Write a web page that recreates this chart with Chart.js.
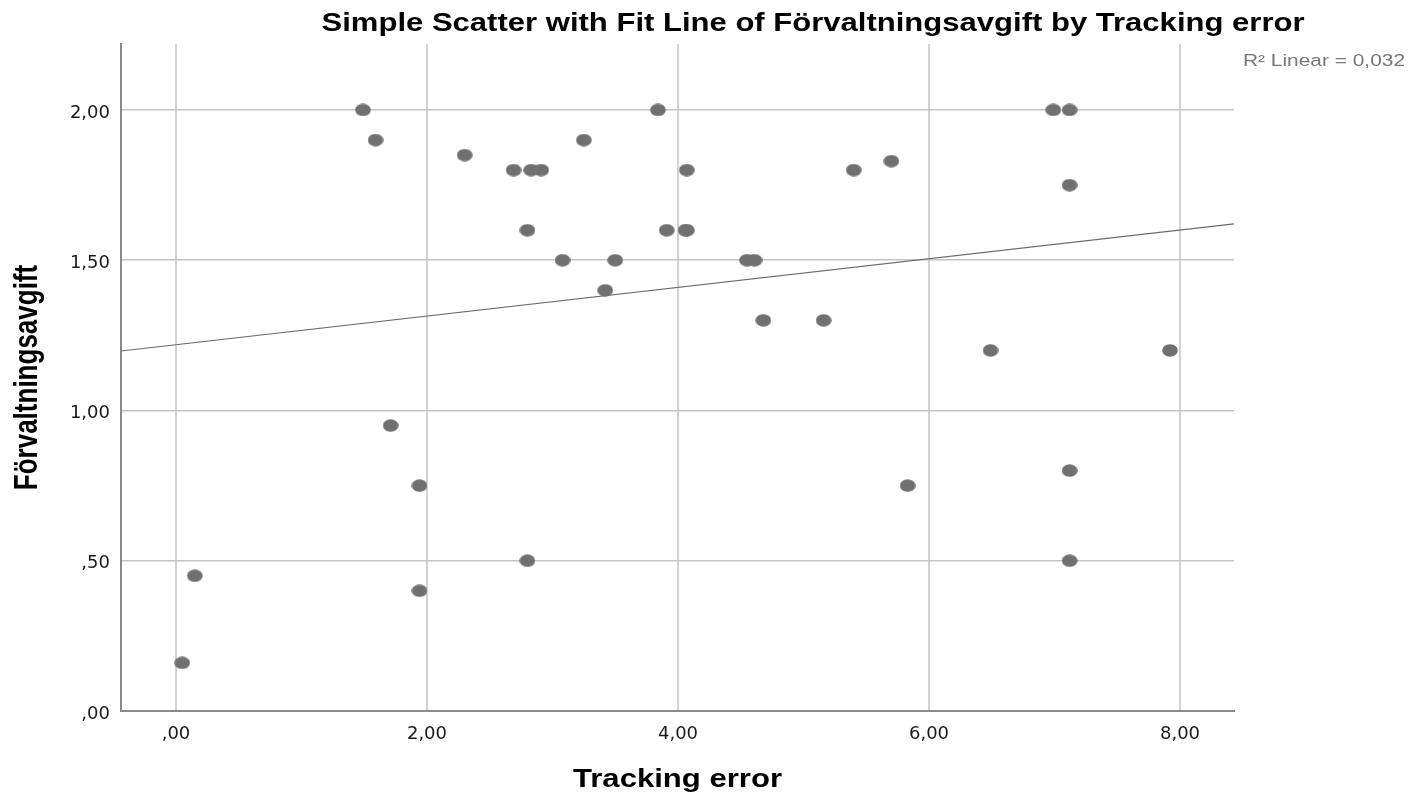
<!DOCTYPE html>
<html lang="sv">
<head>
    <meta charset="UTF-8">
    <title>Simple Scatter with Fit Line</title>
    <script src="https://cdn.jsdelivr.net/npm/chart.js"></script>
    <style>
        body {
            margin: 0;
            background-color: #ffffff;
        }
        canvas {
            display: block;
        }
    </style>
</head>
<body>
    <canvas id="scatterChart" width="1426" height="798"></canvas>

    <script>
        // Tracking error (x) and Förvaltningsavgift (y)
        const trackingError = [
            1.49, 1.59, 2.30, 2.69, 2.83, 2.91, 3.25, 3.84, 4.07,
            2.80, 3.91, 4.06, 4.07, 3.08, 3.50, 3.42, 4.55, 4.61,
            4.68, 5.16, 5.40, 5.70, 6.99, 7.12, 7.12, 6.49, 7.92,
            5.83, 7.12, 7.12, 1.71, 1.94, 1.94, 2.80, 0.15, 0.05
        ];
        const forvaltningsavgift = [
            2.00, 1.90, 1.85, 1.80, 1.80, 1.80, 1.90, 2.00, 1.80,
            1.60, 1.60, 1.60, 1.60, 1.50, 1.50, 1.40, 1.50, 1.50,
            1.30, 1.30, 1.80, 1.83, 2.00, 2.00, 1.75, 1.20, 1.20,
            0.75, 0.80, 0.50, 0.95, 0.75, 0.40, 0.50, 0.45, 0.16
        ];

        // fit line end points (at the edges of the plot)
        const fitLineX = [-0.438, 8.43];
        const fitLineY = [1.198, 1.621];

        const xTicks = [0, 2, 4, 6, 8];
        const yTicks = [0, 0.5, 1, 1.5, 2];

        const chartTitle = 'Simple Scatter with Fit Line of Förvaltningsavgift by Tracking error';
        const xTitle = 'Tracking error';
        const yTitle = 'Förvaltningsavgift';
        const r2Label = 'R² Linear = 0,032';

        // swedish style numbers: ,50 / 2,00
        function formatNumber(v) {
            return v.toFixed(2).replace('.', ',').replace(/^0,/, ',');
        }

        // the markers are a bit wider than high
        function makeMarker() {
            const c = document.createElement('canvas');
            c.width = 16;
            c.height = 13;
            const g = c.getContext('2d');
            g.fillStyle = '#707070';
            g.beginPath();
            g.ellipse(8, 6.5, 7.8, 6.2, 0, 0, Math.PI * 2);
            g.fill();
            return c;
        }

        const points = trackingError.map((x, i) => ({ x: x, y: forvaltningsavgift[i] }));
        const fitPoints = fitLineX.map((x, i) => ({ x: x, y: fitLineY[i] }));

        // text drawn stretched sideways like the original export
        function drawStretched(ctx, text, x, y, font, width, align, color, rotate) {
            ctx.save();
            ctx.font = font;
            ctx.fillStyle = color;
            ctx.textAlign = align;
            ctx.textBaseline = 'alphabetic';
            ctx.translate(x, y);
            if (rotate) {
                ctx.scale(1.3, 1);
                ctx.rotate(-Math.PI / 2);
            } else {
                const w = ctx.measureText(text).width;
                ctx.scale(width / w, 1);
            }
            ctx.fillText(text, 0, 0);
            ctx.restore();
        }

        const textPlugin = {
            id: 'spssTexts',
            afterDraw(chart) {
                const ctx = chart.ctx;
                const area = chart.chartArea;
                const bold = 'bold 25px "Liberation Sans", Arial, sans-serif';
                drawStretched(ctx, chartTitle, 813, 31, bold, 983, 'center', '#000000');
                drawStretched(ctx, xTitle, (area.left + area.right) / 2, 787, bold, 209, 'center', '#000000');
                drawStretched(ctx, yTitle, 37, (area.top + area.bottom) / 2, 'bold 26px "Liberation Sans", Arial, sans-serif', 0, 'center', '#000000', true);
                drawStretched(ctx, r2Label, 1243, 66, '16px "Liberation Sans", Arial, sans-serif', 162, 'left', '#777777');
            }
        };

        const ctx = document.getElementById('scatterChart').getContext('2d');

        const scatterChart = new Chart(ctx, {
            type: 'scatter',
            data: {
                datasets: [{
                    label: 'Förvaltningsavgift',
                    data: points,
                    pointStyle: makeMarker(),
                    pointRadius: 7,
                    pointHoverRadius: 7
                }, {
                    type: 'line',
                    label: 'Fit',
                    data: fitPoints,
                    borderColor: '#6a6a6a',
                    borderWidth: 1.2,
                    pointRadius: 0,
                    fill: false,
                    showLine: true
                }]
            },
            options: {
                responsive: false,
                animation: false,
                layout: {
                    padding: { top: 44, right: 192, left: 0, bottom: 0 }
                },
                plugins: {
                    legend: { display: false },
                    tooltip: { enabled: false },
                    title: { display: false }
                },
                scales: {
                    x: {
                        type: 'linear',
                        min: fitLineX[0],
                        max: fitLineX[1],
                        afterFit: scale => { scale.height = 87; },
                        afterBuildTicks: scale => { scale.ticks = xTicks.map(v => ({ value: v })); },
                        ticks: {
                            padding: 13,
                            color: '#1a1a1a',
                            font: { family: '"DejaVu Sans", sans-serif', size: 18 },
                            callback: v => formatNumber(v)
                        },
                        grid: {
                            color: '#d2d2d2',
                            lineWidth: 2,
                            drawTicks: false
                        },
                        border: { color: '#8a8a8a', width: 2 }
                    },
                    y: {
                        type: 'linear',
                        min: 0,
                        max: 2.2196,
                        afterFit: scale => { scale.width = 121; },
                        afterBuildTicks: scale => { scale.ticks = yTicks.map(v => ({ value: v })); },
                        ticks: {
                            padding: 11,
                            labelOffset: 3,
                            color: '#1a1a1a',
                            font: { family: '"DejaVu Sans", sans-serif', size: 18 },
                            callback: v => formatNumber(v)
                        },
                        grid: {
                            color: '#c4c4c4',
                            lineWidth: 1.5,
                            drawTicks: false
                        },
                        border: { color: '#8a8a8a', width: 2 }
                    }
                }
            },
            plugins: [textPlugin]
        });
    </script>
</body>
</html>
